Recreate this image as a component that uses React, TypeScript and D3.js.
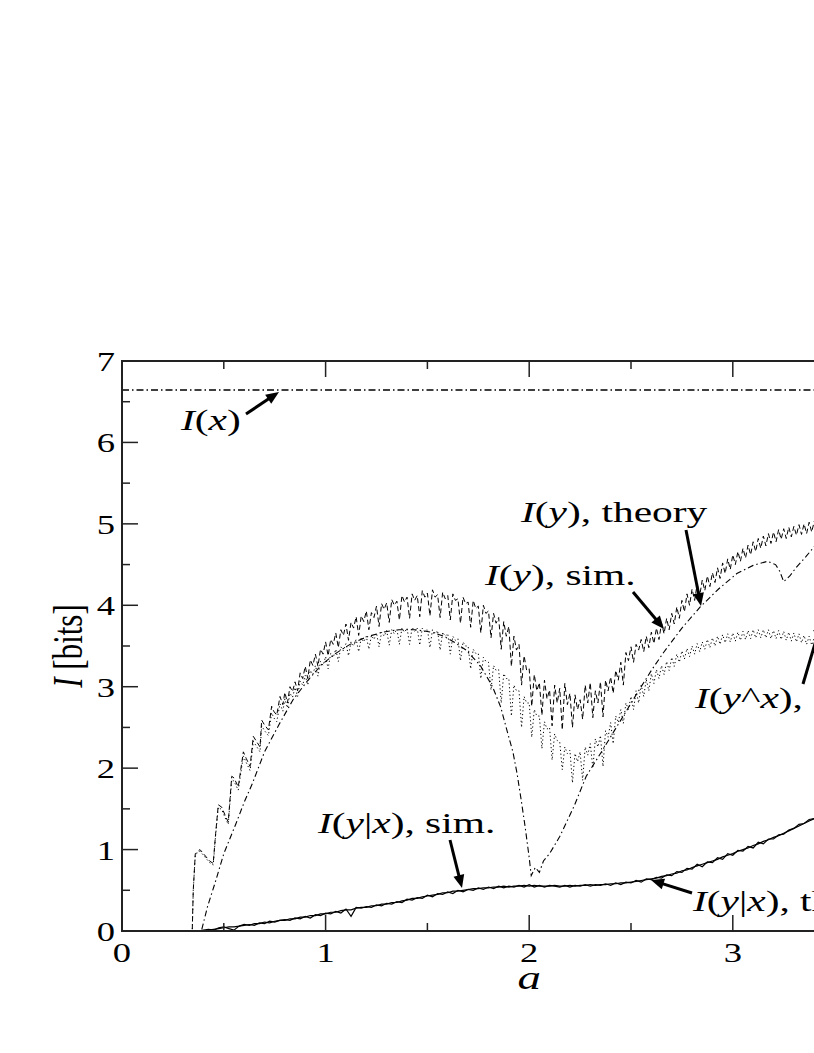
import React from "react";
import * as d3 from "d3";

// ---------- data ----------
const xTicksMajor = [0, 1, 2, 3, 4];
const xTicksMinor = [0.5, 1.5, 2.5, 3.5];
const yTicksMajor = [0, 1, 2, 3, 4, 5, 6, 7];
const yTicksMinor = [0.5, 1.5, 2.5, 3.5, 4.5, 5.5, 6.5];

// I(x) constant
const IX = 6.644;

// I(y), theory (dash-dot)
const theoryY: [number, number][] = [
  [0, 0], [0.39, 0], [0.42, 0.3], [0.457, 0.59], [0.5, 0.95], [0.56, 1.32], [0.6, 1.58], [0.64, 1.81],
  [0.7, 2.2], [0.77, 2.53], [0.84, 2.84], [0.91, 3.07], [0.98, 3.27], [1.05, 3.41], [1.12, 3.52],
  [1.2, 3.61], [1.28, 3.67], [1.36, 3.7], [1.44, 3.7], [1.52, 3.67], [1.58, 3.62], [1.63, 3.55],
  [1.69, 3.45], [1.76, 3.26], [1.82, 3.0], [1.86, 2.75], [1.89, 2.47], [1.92, 2.2], [1.94, 1.94],
  [1.96, 1.62], [1.98, 1.28], [2.0, 0.9], [2.01, 0.68], [2.03, 0.78], [2.05, 0.72], [2.07, 0.86],
  [2.1, 0.95], [2.15, 1.16], [2.22, 1.53], [2.28, 1.9], [2.36, 2.22], [2.45, 2.59], [2.53, 2.92],
  [2.6, 3.2], [2.66, 3.42], [2.75, 3.72], [2.84, 3.98], [2.93, 4.2], [3.02, 4.39], [3.1, 4.49],
  [3.17, 4.54], [3.21, 4.5], [3.23, 4.42], [3.25, 4.29], [3.28, 4.36], [3.31, 4.46], [3.36, 4.6],
  [3.4, 4.72], [3.45, 4.82],
];

// I(y), sim. (dashed): low-a sawtooth, then alternating high/low samples
const simYEarly: [number, number][] = [
  [0, 0], [0.345, 0], [0.35, 0.5], [0.36, 0.95], [0.383, 1.0], [0.4, 0.95], [0.43, 0.86], [0.448, 0.83],
  [0.46, 1.2], [0.473, 1.55], [0.49, 1.52], [0.51, 1.4], [0.522, 1.34], [0.539, 1.9], [0.55, 1.88],
  [0.571, 1.77], [0.596, 2.2], [0.61, 2.12], [0.629, 2.02], [0.645, 2.39], [0.66, 2.33], [0.678, 2.26],
  [0.686, 2.59], [0.7, 2.53], [0.719, 2.47], [0.735, 2.76], [0.745, 2.7], [0.76, 2.65], [0.776, 2.88],
  [0.79, 2.78],
];
const simStart = 0.8;
const simStep = 0.025;
const simYHigh = [
  2.93, 3.0, 3.06, 3.17, 3.25, 3.33, 3.4, 3.46, 3.55, 3.58, 3.66, 3.7, 3.77, 3.79, 3.86, 3.87, 3.93, 3.91,
  3.99, 4.02, 4.03, 4.07, 4.05, 4.12, 4.1, 4.14, 4.12, 4.18, 4.15, 4.19, 4.13, 4.16, 4.12, 4.14, 4.08, 4.1,
  4.04, 4.06, 3.99, 4.0, 3.93, 3.9, 3.85, 3.8, 3.74, 3.62, 3.52, 3.38, 3.22, 3.15, 3.05, 3.08, 2.96, 3.02,
  2.98, 3.04, 2.92, 2.9, 2.84, 3.02, 3.05, 2.95, 3.06, 3.08, 3.12, 3.2, 3.3, 3.42, 3.49, 3.52, 3.58, 3.62,
  3.67, 3.72, 3.78, 3.84, 3.9, 3.98, 4.06, 4.14, 4.2, 4.26, 4.31, 4.36, 4.4, 4.46, 4.52, 4.57, 4.62, 4.66,
  4.7, 4.74, 4.78, 4.82, 4.85, 4.88, 4.9, 4.93, 4.94, 4.96, 4.97, 4.99, 5.0, 5.02, 5.03, 5.04,
];
const simYLow = [
  2.8, 2.94, 2.95, 3.1, 3.1, 3.26, 3.25, 3.4, 3.38, 3.52, 3.48, 3.63, 3.57, 3.72, 3.63, 3.8, 3.7, 3.85,
  3.74, 3.95, 3.79, 4.0, 3.82, 4.04, 3.84, 4.06, 3.86, 4.1, 3.87, 4.1, 3.85, 4.08, 3.82, 4.06, 3.78, 4.02,
  3.73, 3.96, 3.66, 3.9, 3.6, 3.78, 3.46, 3.62, 3.25, 3.45, 3.02, 3.2, 2.76, 2.95, 2.65, 2.85, 2.52, 2.8,
  2.47, 2.78, 2.5, 2.72, 2.6, 2.8, 2.62, 2.8, 2.63, 2.95, 2.92, 3.08, 3.02, 3.32, 3.3, 3.45, 3.43, 3.48,
  3.53, 3.58, 3.65, 3.7, 3.77, 3.84, 3.92, 4.0, 4.06, 4.12, 4.18, 4.23, 4.28, 4.33, 4.39, 4.44, 4.5, 4.54,
  4.58, 4.62, 4.66, 4.7, 4.73, 4.76, 4.78, 4.81, 4.82, 4.84, 4.86, 4.87, 4.88, 4.9, 4.91, 4.92,
];

// I(y^x), sim. (dotted)
const mutEarly: [number, number][] = [
  [0, 0], [0.345, 0], [0.35, 0.5], [0.36, 0.94], [0.383, 0.98], [0.4, 0.93], [0.43, 0.84], [0.448, 0.81],
  [0.46, 1.18], [0.473, 1.52], [0.49, 1.49], [0.51, 1.37], [0.522, 1.31], [0.539, 1.86], [0.55, 1.84],
  [0.571, 1.73], [0.596, 2.15], [0.61, 2.07], [0.629, 1.97], [0.645, 2.33], [0.66, 2.27], [0.678, 2.2],
  [0.686, 2.52], [0.7, 2.46], [0.719, 2.4], [0.735, 2.68], [0.745, 2.62], [0.76, 2.57], [0.776, 2.79],
  [0.79, 2.7],
];
const mutHigh = [
  2.85, 2.92, 2.99, 3.07, 3.14, 3.2, 3.26, 3.31, 3.37, 3.41, 3.46, 3.49, 3.53, 3.55, 3.58, 3.6, 3.62, 3.63,
  3.66, 3.67, 3.69, 3.7, 3.71, 3.72, 3.72, 3.73, 3.72, 3.72, 3.71, 3.7, 3.69, 3.67, 3.65, 3.62, 3.59, 3.55,
  3.5, 3.46, 3.41, 3.36, 3.3, 3.26, 3.21, 3.16, 3.1, 3.02, 2.95, 2.88, 2.8, 2.72, 2.64, 2.57, 2.5, 2.42,
  2.32, 2.26, 2.22, 2.18, 2.2, 2.26, 2.3, 2.36, 2.4, 2.46, 2.56, 2.64, 2.72, 2.8, 2.88, 2.95, 3.02, 3.09,
  3.16, 3.21, 3.26, 3.31, 3.36, 3.4, 3.44, 3.47, 3.5, 3.53, 3.55, 3.58, 3.6, 3.62, 3.64, 3.65, 3.66, 3.67,
  3.68, 3.69, 3.7, 3.7, 3.7, 3.7, 3.69, 3.69, 3.68, 3.67, 3.66, 3.65, 3.63, 3.62, 3.6, 3.59,
];
const mutLow = [
  2.74, 2.87, 2.88, 3.02, 3.02, 3.15, 3.13, 3.26, 3.22, 3.36, 3.31, 3.44, 3.38, 3.5, 3.43, 3.55, 3.46, 3.58,
  3.49, 3.62, 3.51, 3.65, 3.52, 3.67, 3.52, 3.68, 3.51, 3.67, 3.48, 3.65, 3.45, 3.62, 3.4, 3.57, 3.32, 3.5,
  3.22, 3.41, 3.1, 3.31, 2.96, 3.2, 2.8, 3.1, 2.64, 2.95, 2.5, 2.8, 2.38, 2.64, 2.24, 2.48, 2.1, 2.34,
  1.98, 2.18, 1.82, 2.08, 1.85, 2.16, 2.0, 2.26, 2.02, 2.38, 2.3, 2.56, 2.55, 2.72, 2.72, 2.8, 2.88, 2.95,
  3.04, 3.1, 3.15, 3.2, 3.25, 3.3, 3.34, 3.37, 3.4, 3.43, 3.46, 3.48, 3.5, 3.52, 3.54, 3.55, 3.56, 3.57,
  3.58, 3.59, 3.6, 3.6, 3.6, 3.59, 3.59, 3.58, 3.57, 3.56, 3.55, 3.54, 3.52, 3.51, 3.5, 3.48,
];

// I(y|x) sim. and theory (solid)
const condStart = 0.35;
const condStep = 0.025;
const condSim = [
  0.0, 0.0, 0.01, 0.02, 0.01, 0.04, 0.05, 0.03, 0.01, 0.06, 0.07, 0.08, 0.07, 0.1, 0.09, 0.12, 0.11, 0.13,
  0.14, 0.13, 0.16, 0.15, 0.18, 0.16, 0.2, 0.19, 0.22, 0.21, 0.24, 0.22, 0.27, 0.18, 0.29, 0.28, 0.3, 0.29,
  0.32, 0.31, 0.34, 0.33, 0.36, 0.35, 0.39, 0.38, 0.41, 0.4, 0.44, 0.42, 0.46, 0.45, 0.48, 0.46, 0.5, 0.48,
  0.51, 0.5, 0.53, 0.51, 0.54, 0.52, 0.55, 0.53, 0.55, 0.54, 0.56, 0.54, 0.57, 0.54, 0.56, 0.54, 0.56, 0.55,
  0.54, 0.56, 0.54, 0.56, 0.55, 0.57, 0.55, 0.57, 0.56, 0.58, 0.56, 0.59, 0.57, 0.6, 0.59, 0.62, 0.6, 0.64,
  0.63, 0.66, 0.65, 0.69, 0.68, 0.73, 0.72, 0.77, 0.76, 0.82, 0.79, 0.85, 0.84, 0.9, 0.88, 0.95, 0.93, 0.99,
  0.98, 1.04, 1.02, 1.09, 1.07, 1.13, 1.13, 1.18, 1.19, 1.24, 1.26, 1.31, 1.32, 1.37, 1.38, 1.42,
];
const condTheory = [
  0.0, 0.0, 0.0, 0.01, 0.02, 0.03, 0.04, 0.05, 0.05, 0.06, 0.08, 0.07, 0.09, 0.09, 0.11, 0.1, 0.12, 0.13,
  0.13, 0.15, 0.15, 0.17, 0.17, 0.19, 0.19, 0.21, 0.21, 0.23, 0.23, 0.25, 0.26, 0.26, 0.28, 0.29, 0.29, 0.31,
  0.31, 0.33, 0.33, 0.35, 0.35, 0.37, 0.38, 0.4, 0.4, 0.42, 0.43, 0.44, 0.45, 0.47, 0.47, 0.49, 0.49, 0.5,
  0.51, 0.52, 0.52, 0.53, 0.53, 0.54, 0.54, 0.55, 0.54, 0.55, 0.55, 0.56, 0.55, 0.56, 0.55, 0.55, 0.55, 0.56,
  0.55, 0.55, 0.56, 0.55, 0.56, 0.56, 0.57, 0.56, 0.57, 0.57, 0.58, 0.58, 0.59, 0.59, 0.6, 0.61, 0.62, 0.63,
  0.64, 0.65, 0.67, 0.68, 0.7, 0.71, 0.74, 0.75, 0.78, 0.8, 0.82, 0.84, 0.86, 0.88, 0.91, 0.93, 0.95, 0.98,
  1.0, 1.02, 1.05, 1.07, 1.1, 1.12, 1.15, 1.17, 1.2, 1.23, 1.26, 1.29, 1.32, 1.35, 1.38, 1.41,
];

// ---------- layout ----------
const W = 814;
const H = 1053;
const FONT = "'Liberation Serif', 'Times New Roman', Times, serif";
const SX = 1.38; // horizontal glyph stretch seen in the reference

const x = d3.scaleLinear().domain([0, 4]).range([122, 936.4]);
const y = d3.scaleLinear().domain([0, 7]).range([931, 361]);

const line = d3
  .line<[number, number]>()
  .x((d) => x(d[0]))
  .y((d) => y(d[1]));

function interleave(early: [number, number][], hi: number[], lo: number[], start: number, step: number) {
  const pts: [number, number][] = early.slice();
  hi.forEach((v, i) => {
    const a = start + i * step;
    pts.push([a, v]);
    pts.push([a + step / 2, lo[i]]);
  });
  return pts;
}

function gridSeries(vals: number[], start: number, step: number): [number, number][] {
  const pts: [number, number][] = [[0, 0]];
  vals.forEach((v, i) => pts.push([start + i * step, v]));
  return pts;
}

const simYPts = interleave(simYEarly, simYHigh, simYLow, simStart, simStep);
const mutPts = interleave(mutEarly, mutHigh, mutLow, simStart, simStep);
const condSimPts = gridSeries(condSim, condStart, condStep);
const condTheoryPts = gridSeries(condTheory, condStart, condStep);
const ixPts: [number, number][] = [
  [0, IX],
  [4, IX],
];

function Arrow({ x1, y1, x2, y2 }: { x1: number; y1: number; x2: number; y2: number }) {
  const dx = x2 - x1;
  const dy = y2 - y1;
  const len = Math.hypot(dx, dy);
  const ux = dx / len;
  const uy = dy / len;
  const hl = 13;
  const hw = 5.5;
  const bx = x2 - ux * hl;
  const by = y2 - uy * hl;
  const px = -uy;
  const py = ux;
  return (
    <g>
      <line x1={x1} y1={y1} x2={bx + ux * 2} y2={by + uy * 2} stroke="#000" strokeWidth={3} />
      <polygon
        points={`${x2},${y2} ${bx + px * hw},${by + py * hw} ${bx - px * hw},${by - py * hw}`}
        fill="#000"
      />
    </g>
  );
}

function Label({ x: lx, y: ly, children, size = 30 }: { x: number; y: number; children: React.ReactNode; size?: number }) {
  return (
    <text transform={`translate(${lx},${ly}) scale(${SX},1)`} fontSize={size} fontFamily={FONT} fill="#000">
      {children}
    </text>
  );
}

const It = ({ children }: { children: React.ReactNode }) => <tspan fontStyle="italic">{children}</tspan>;

export default function App() {
  const frame = "#222";
  return (
    <svg
      width={W}
      height={H}
      viewBox={`0 0 ${W} ${H}`}
      style={{ position: "absolute", left: 0, top: 0, background: "#fff" }}
    >
      <defs>
        <clipPath id="plot">
          <rect x={x(0)} y={y(7)} width={x(4) - x(0)} height={y(0) - y(7)} />
        </clipPath>
      </defs>
      <rect x={0} y={0} width={W} height={H} fill="#fff" />

      {/* curves */}
      <g clipPath="url(#plot)" fill="none" stroke="#000">
        <path d={line(ixPts) || ""} strokeWidth={1.3} strokeDasharray="7,3,1.5,3" />
        <path d={line(theoryY) || ""} strokeWidth={1.1} strokeDasharray="6,3,1.5,3" />
        <path d={line(mutPts) || ""} strokeWidth={1.0} strokeDasharray="1.2,2.6" />
        <path d={line(simYPts) || ""} strokeWidth={1.0} strokeDasharray="5,3" />
        <path d={line(condTheoryPts) || ""} strokeWidth={1.2} />
        <path d={line(condSimPts) || ""} strokeWidth={1.2} />
      </g>

      {/* frame */}
      <rect
        x={x(0)}
        y={y(7)}
        width={x(4) - x(0)}
        height={y(0) - y(7)}
        fill="none"
        stroke={frame}
        strokeWidth={2}
      />

      {/* ticks */}
      <g stroke={frame} strokeWidth={1.5}>
        {xTicksMajor.map((t) => (
          <g key={"xM" + t}>
            <line x1={x(t)} x2={x(t)} y1={y(0)} y2={y(0) - 16} />
            <line x1={x(t)} x2={x(t)} y1={y(7)} y2={y(7) + 16} />
          </g>
        ))}
        {xTicksMinor.map((t) => (
          <g key={"xm" + t}>
            <line x1={x(t)} x2={x(t)} y1={y(0)} y2={y(0) - 8} />
            <line x1={x(t)} x2={x(t)} y1={y(7)} y2={y(7) + 8} />
          </g>
        ))}
        {yTicksMajor.map((t) => (
          <line key={"yM" + t} x1={x(0)} x2={x(0) + 16} y1={y(t)} y2={y(t)} />
        ))}
        {yTicksMinor.map((t) => (
          <line key={"ym" + t} x1={x(0)} x2={x(0) + 8} y1={y(t)} y2={y(t)} />
        ))}
      </g>

      {/* tick labels */}
      <g fontFamily={FONT} fontSize={26.5} fill="#000">
        {yTicksMajor.map((t) => (
          <text key={"yl" + t} transform={`translate(115,${y(t) + 10}) scale(${SX},1)`} textAnchor="end">
            {t}
          </text>
        ))}
        {xTicksMajor.map((t) => (
          <text key={"xl" + t} transform={`translate(${x(t)},${y(0) + 31}) scale(${SX},1)`} textAnchor="middle">
            {t}
          </text>
        ))}
      </g>

      {/* axis titles */}
      <text
        transform={`translate(${x(2)},${y(0) + 58}) scale(${SX},1)`}
        textAnchor="middle"
        fontFamily={FONT}
        fontSize={34}
        fontStyle="italic"
      >
        a
      </text>
      <text
        transform={`translate(82,${(y(0) + y(7)) / 2}) scale(${SX},1) rotate(-90)`}
        textAnchor="middle"
        fontFamily={FONT}
        fontSize={31}
      >
        <It>I</It> [bits]
      </text>

      {/* annotations */}
      <Label x={181} y={430}>
        <It>I</It>(<It>x</It>)
      </Label>
      <Arrow x1={246} y1={414} x2={279} y2={392} />

      <Label x={521} y={522}>
        <It>I</It>(<It>y</It>), theory
      </Label>
      <Arrow x1={686} y1={530} x2={701} y2={606} />

      <Label x={485} y={585}>
        <It>I</It>(<It>y</It>), sim.
      </Label>
      <Arrow x1={633} y1={592} x2={664} y2={629} />

      <Label x={695} y={708}>
        <It>I</It>(<It>y</It>^<It>x</It>), sim.
      </Label>
      <Arrow x1={803} y1={684} x2={822} y2={620} />

      <Label x={318} y={833}>
        <It>I</It>(<It>y</It>|<It>x</It>), sim.
      </Label>
      <Arrow x1={450} y1={840} x2={462} y2={888} />

      <Label x={693} y={911}>
        <It>I</It>(<It>y</It>|<It>x</It>), theory
      </Label>
      <Arrow x1={692} y1={893} x2={651} y2={880} />
    </svg>
  );
}
